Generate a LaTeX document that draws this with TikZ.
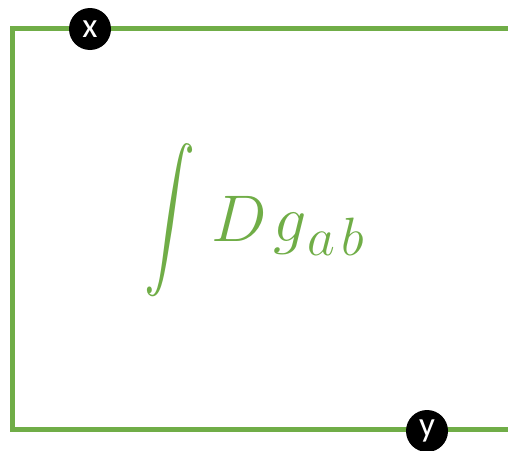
\RequirePackage{fix-cm}
\documentclass[tikz,border=0pt]{standalone}
\usepackage{fontspec}
\setmainfont{Carlito}
\DeclareMathSizes{66}{66}{54}{40}
\definecolor{lgreen}{HTML}{70AD47}
\tikzset{
  wire/.style={draw=lgreen, line width=5pt, line cap=butt, line join=miter},
  port/.style={circle, fill=black, minimum size=42pt, inner sep=0pt, text=white, font=\fontsize{35}{36}\selectfont},
  formula/.style={text=lgreen, inner sep=0pt}
}
\begin{document}
\begin{tikzpicture}[x=1pt,y=-1pt]
\useasboundingbox (0,0) rectangle (508,450);
\coordinate (tr) at (510,28);
\coordinate (tl) at (12,28);
\coordinate (bl) at (12,429);
\coordinate (br) at (510,429);
\draw[wire] (tr) -- (tl) -- (bl) -- (br);
\node[port] (x) at (90,29) {\raisebox{-1pt}{x}};
\node[port] (y) at (427,431) {\raisebox{3pt}{y}};
\node[formula] (int) at (170,220) {\scalebox{5.1}[6.9]{$\displaystyle\int$}};
\node[formula, anchor=base west] (f) at (211,241)
  {\fontsize{66}{80}\selectfont$D\mkern2mu g_{\mkern1mu a\mkern2mu b}$};
\end{tikzpicture}
\end{document}
